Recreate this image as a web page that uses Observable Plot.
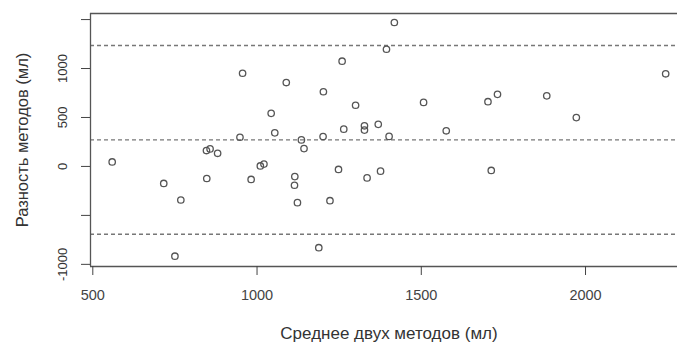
<!DOCTYPE html>
<html>
<head>
<meta charset="utf-8">
<script src="https://cdn.jsdelivr.net/npm/d3@7"></script>
<script src="https://cdn.jsdelivr.net/npm/@observablehq/plot@0.6"></script>
<style>
  html, body { margin: 0; padding: 0; background: #fff; }
  #chart svg { display: block; }
</style>
</head>
<body>
<div id="chart"></div>
<script>
// Среднее двух методов (мл)
const means = [559,716,750,768,846,857,847,880,948,956,982,1010,1021,1043,1054,1089,1115,1114,1123,1135,1143,1188,1201,1202,1222,1248,1259,1264,1300,1327,1327,1335,1369,1376,1394,1402,1418,1507,1576,1703,1713,1732,1882,1972,2244];
// Разность методов (мл)
const diffs = [46,-174,-917,-343,162,179,-123,134,298,952,-133,5,24,542,343,857,-104,-192,-370,271,182,-830,305,763,-350,-31,1075,381,625,415,371,-117,430,-48,1197,307,1470,654,364,661,-41,736,721,499,946];
// mean difference and limits of agreement
const limits = [-693, 271, 1235];
const xTicks = [500, 1000, 1500, 2000];
const yTicks = [-1000, -500, 0, 500, 1000, 1500];
const yTickLabels = [-1000, 0, 500, 1000];
const xTitle = "Среднее двух методов (мл)";
const yTitle = "Разность методов (мл)";

const data = means.map((m, i) => ({m, d: diffs[i]}));
const xDomain = [493, 2280];
const yDomain = [-1022, 1562];
const ink = "#555";

const chart = Plot.plot({
  width: 677,
  height: 343,
  marginLeft: 90,
  marginRight: 0,
  marginTop: 13,
  marginBottom: 77,
  x: {domain: xDomain},
  y: {domain: yDomain},
  style: {fontFamily: "'Liberation Sans', Arial, sans-serif", background: "#fff", color: "#333"},
  marks: [
    Plot.ruleY(limits, {stroke: "#777", strokeWidth: 1.4, strokeDasharray: "4,3"}),
    Plot.ruleY([yDomain[1], yDomain[0]], {stroke: ink, strokeWidth: 1.3}),
    Plot.ruleX([xDomain[0]], {stroke: ink, strokeWidth: 1.3}),
    Plot.axisX(xTicks, {tickSize: 9, tickPadding: 14, fontSize: 14.5, label: null, color: "#444", tickFormat: d => String(d)}),
    Plot.axisY(yTicks, {tickSize: 9, label: null, color: "#444", tickFormat: () => ""}),
    Plot.text(yTickLabels, {y: d => d, text: d => String(d), frameAnchor: "left", textAnchor: "middle", lineAnchor: "middle", dx: -28, rotate: -90, fontSize: 13, fill: "#333"}),
    Plot.text([yTitle], {text: d => d, frameAnchor: "left", textAnchor: "middle", lineAnchor: "middle", dx: -68, rotate: -90, fontSize: 16.5, fill: "#333"}),
    Plot.text([xTitle], {text: d => d, frameAnchor: "bottom", textAnchor: "middle", lineAnchor: "middle", dx: 5, dy: 67.5, fontSize: 17, fill: "#333"}),
    Plot.dot(data, {x: "m", y: "d", r: 3.2, stroke: ink, strokeWidth: 1.3, fill: "none"})
  ]
});
document.getElementById("chart").append(chart);
</script>
</body>
</html>
